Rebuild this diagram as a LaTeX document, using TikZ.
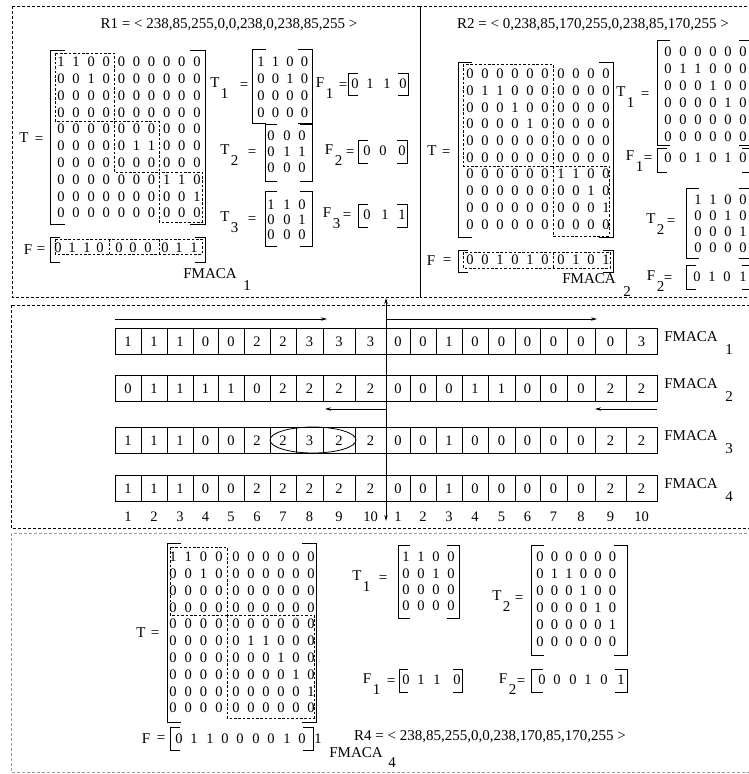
\documentclass[tikz,border=0pt]{standalone}
\usepackage{fontspec}
\setmainfont{Liberation Serif}
\usetikzlibrary{arrows.meta}

\tikzset{
  txt/.style={inner sep=0pt, font=\fontsize{15}{18}\selectfont},
  dig/.style={inner sep=0pt, font=\fontsize{14.5}{17}\selectfont},
  brk/.style={line width=0.9pt},
  blk/.style={dash pattern=on 2.6pt off 1.8pt, line width=0.7pt},
  panel/.style={dash pattern=on 3pt off 2pt, line width=0.8pt},
  graypanel/.style={panel, draw=black!40},
  cellln/.style={line width=0.8pt},
  arr/.style={-{Stealth[length=6pt,width=3.4pt]}, line width=0.7pt},
  darr/.style={{Stealth[length=6pt,width=3.4pt]}-{Stealth[length=6pt,width=3.4pt]}, line width=0.7pt},
}

% row of digits at listed x positions
\newcommand{\DigRowL}[4]{%
  \foreach \v [count=\c] in #4 {%
    \pgfmathsetmacro\cx{{#2}[\c-1]}%
    \node[dig] (#1-\c) at (\cx,#3) {\v};}}
% matrix: name, xlist, y0, dy, rows
\newcommand{\DigMat}[5]{%
  \foreach \rw [count=\r] in {#5} {%
    \pgfmathsetmacro\ry{#3+(\r-1)*(#4)}%
    \DigRowL{#1-\r}{#2}{\ry}{\rw}}}
% bracket pair: xl, xr, ytop, ybot, tick
\newcommand{\Brk}[5]{%
  \draw[brk] ({#1+#5},#3) -- (#1,#3) -- (#1,#4) -- ({#1+#5},#4);
  \draw[brk] ({#2-#5},#3) -- (#2,#3) -- (#2,#4) -- ({#2-#5},#4);}
% label with lowered index and equals sign: name, letter, x, y, index, x of =
\newcommand{\Lbl}[6]{%
  \node[txt] (#1) at (#3,#4) {#2};
  \node[txt] (#1s) at ({#3+9.5},{#4+11}) {#5};
  \node[txt] (#1e) at (#6,{#4+3}) {=};}
% row of cells in the middle panel: name, ytop, values
\newcommand{\CellRow}[3]{%
  \draw[cellln] (115,#2) rectangle (657,{#2+26});
  \foreach \bx in {141,167,193,218,244,270,296,323,355,386,410,436,462,488,515,540,567,595,626}
    {\draw[cellln] (\bx,#2) -- (\bx,{#2+26});}
  \foreach \v [count=\c] in {#3} {%
    \pgfmathsetmacro\cx{{128,154,180,205.5,231,257,283,309.5,339,370.5,398,423,449,475,501.5,527.5,553.5,581,610.5,641.5}[\c-1]}%
    \node[dig] (#1-\c) at (\cx,{#2+13.5}) {\v};}}

\begin{document}
\begin{tikzpicture}[x=1pt,y=-1pt]
\useasboundingbox (0,0) rectangle (749,774);

% ================= TOP LEFT: FMACA 1 =================
\draw[panel] (12,6) rectangle (420,297);
\node[txt] (r1) at (229,25) {R1 = < 238,85,255,0,0,238,0,238,85,255 >};

\node[txt] (tlT) at (24,138) {T};
\node[txt] (tlTe) at (39,140) {=};
\DigMat{tl}{61,76.1,91.2,106.3,121.4,136.5,151.6,166.7,181.8,196.9}{62}{16.8}{%
{1,1,0,0,0,0,0,0,0,0},{0,0,1,0,0,0,0,0,0,0},{0,0,0,0,0,0,0,0,0,0},{0,0,0,0,0,0,0,0,0,0},%
{0,0,0,0,0,0,0,0,0,0},{0,0,0,0,0,1,1,0,0,0},{0,0,0,0,0,0,0,0,0,0},%
{0,0,0,0,0,0,0,1,1,0},{0,0,0,0,0,0,0,0,0,1},{0,0,0,0,0,0,0,0,0,0}}
\Brk{50}{205}{50}{224}{15}
\draw[blk] (55,53) rectangle (114,121);
\draw[blk] (114,121) rectangle (159,172);
\draw[blk] (159,172) rectangle (202,222);

\node[txt] (tlF) at (28,250) {F};
\node[txt] (tlFe) at (41,250) {=};
\DigRowL{tlf}{58,72,87,100,119,133,148,165,179,194}{248}{{0,1,1,0,0,0,0,0,1,1}}
\Brk{50}{205}{237}{262}{10}
\draw[blk] (55,239) rectangle (202,254);
\draw[blk] (109,239) -- (109,254);
\draw[blk] (159,239) -- (159,254);

\Lbl{tlT1}{T}{215}{83}{1}{244}
\DigMat{tlone}{261,275.5,290,304.5}{62}{16.8}{{1,1,0,0},{0,0,1,0},{0,0,0,0},{0,0,0,0}}
\Brk{252}{312}{49}{123}{14}
\Lbl{tlF1}{F}{320}{83}{1}{343}
\DigRowL{tlfone}{355,370,387,403}{84}{{0,1,1,0}}
\Brk{348}{408}{73}{95}{10}

\Lbl{tlT2}{T}{225}{150}{2}{252}
\DigMat{tltwo}{271,287,302}{136}{16}{{0,0,0},{0,1,1},{0,0,0}}
\Brk{265}{312}{124}{181}{12}
\Lbl{tlF2}{F}{329}{150}{2}{350}
\DigRowL{tlftwo}{367,383,402}{151}{{0,0,0}}
\Brk{358}{407}{140}{163}{10}

\Lbl{tlT3}{T}{225}{217}{3}{252}
\DigMat{tlthree}{271,287,302}{205}{15}{{1,1,0},{0,0,1},{0,0,0}}
\Brk{265}{312}{191}{246}{12}
\Lbl{tlF3}{F}{327}{213}{3}{347}
\DigRowL{tlfthree}{367,385,402}{215}{{0,1,1}}
\Brk{358}{407}{204}{227}{10}

\node[txt] (fm1) at (210,274) {FMACA};
\node[txt] (fm1s) at (247,286) {1};

% ================= TOP RIGHT: FMACA 2 =================
\draw[panel] (420,6) rectangle (770,297);
\node[txt] (r2) at (593,25) {R2 = < 0,238,85,170,255,0,238,85,170,255 >};

\node[txt] (trT) at (432,151) {T};
\node[txt] (trTe) at (446,153) {=};
\DigMat{tr}{470,485,500,515,530,545,561,576,591,606}{74}{16.7}{%
{0,0,0,0,0,0,0,0,0,0},{0,1,1,0,0,0,0,0,0,0},{0,0,0,1,0,0,0,0,0,0},{0,0,0,0,1,0,0,0,0,0},%
{0,0,0,0,0,0,0,0,0,0},{0,0,0,0,0,0,0,0,0,0},{0,0,0,0,0,0,1,1,0,0},%
{0,0,0,0,0,0,0,0,1,0},{0,0,0,0,0,0,0,0,0,1},{0,0,0,0,0,0,0,0,0,0}}
\Brk{458}{613}{62}{237}{14}
\draw[blk] (463,64) rectangle (553,166);
\draw[blk] (553,166) rectangle (609,236);

\node[txt] (trF) at (431,261) {F};
\node[txt] (trFe) at (447,261) {=};
\DigRowL{trf}{470,485,500,515,530,545,561,576,591,606}{260}{{0,0,1,0,1,0,0,1,0,1}}
\Brk{458}{613}{250}{272}{10}
\draw[blk] (463,252) rectangle (610,268);
\draw[blk] (553,252) -- (553,268);

\node[txt] (fm2) at (589,279) {FMACA};
\node[txt] (fm2s) at (627,292) {2};

\Lbl{trT1}{T}{621}{92}{1}{645}
\DigMat{trone}{668,683,698,713,728,743}{52}{17}{%
{0,0,0,0,0,0},{0,1,1,0,0,0},{0,0,0,1,0,0},{0,0,0,0,1,0},{0,0,0,0,0,0},{0,0,0,0,0,0}}
\Brk{657}{752}{40}{145}{13}
\Lbl{trF1}{F}{630}{156}{1}{648}
\DigRowL{trfone}{668,683,698,713,728,743}{158}{{0,0,1,0,1,0}}
\Brk{657}{752}{148}{172}{10}

\Lbl{trT2}{T}{651}{219}{2}{671}
\DigMat{trtwo}{698,713,728,743}{200}{16}{{1,1,0,0},{0,0,1,0},{0,0,0,1},{0,0,0,0}}
\Brk{686}{752}{188}{258}{13}
\Lbl{trF2}{F}{651}{276}{2}{668}
\DigRowL{trftwo}{697,712,727,743}{277}{{0,1,0,1}}
\Brk{686}{752}{265}{289}{10}

% ================= MIDDLE =================
\draw[panel] (11,305) rectangle (770,528);
\CellRow{ra}{328}{1,1,1,0,0,2,2,3,3,3,0,0,1,0,0,0,0,0,0,3}
\CellRow{rb}{375}{0,1,1,1,1,0,2,2,2,2,0,0,0,1,1,0,0,0,2,2}
\CellRow{rc}{427}{1,1,1,0,0,2,2,3,2,2,0,0,1,0,0,0,0,0,2,2}
\CellRow{rd}{475}{1,1,1,0,0,2,2,2,2,2,0,0,1,0,0,0,0,0,2,2}
\foreach \yc/\k in {341/1,388/2,440/3,488/4} {
  \node[txt] (fmr\k) at (691,{\yc-4}) {FMACA};
  \node[txt] (fmr\k s) at (729,{\yc+9}) {\k};}
\foreach \v [count=\c] in {1,2,3,4,5,6,7,8,9,10,1,2,3,4,5,6,7,8,9,10} {
  \pgfmathsetmacro\cx{{128,154,180,205.5,231,257,283,309.5,339,370.5,398,423,449,475,501.5,527.5,553.5,581,610.5,641.5}[\c-1]}
  \node[dig] (num-\c) at (\cx,517) {\v};}
\draw[cellln] (313,440) ellipse [x radius=43pt, y radius=13pt];

\coordinate (aa) at (115,319); \coordinate (ab) at (327,319);
\coordinate (ac) at (386,319); \coordinate (ad) at (597,319);
\coordinate (ae) at (386,409); \coordinate (af) at (325,409);
\coordinate (ag) at (657,409); \coordinate (ah) at (595,409);
\coordinate (vt) at (386,298); \coordinate (vb) at (386,521);
\draw[arr] (aa) -- (ab);
\draw[arr] (ac) -- (ad);
\draw[arr] (ae) -- (af);
\draw[arr] (ag) -- (ah);
\draw[darr] (vb) -- (vt);

% ================= BOTTOM: FMACA 4 =================
\draw[graypanel] (11,533) rectangle (770,772);
\node[txt] (btT) at (141,633) {T};
\node[txt] (btTe) at (155,634) {=};
\DigMat{bt}{173,188.3,203.6,218.9,236,251,266,281,296,311}{557}{16.8}{%
{1,1,0,0,0,0,0,0,0,0},{0,0,1,0,0,0,0,0,0,0},{0,0,0,0,0,0,0,0,0,0},{0,0,0,0,0,0,0,0,0,0},%
{0,0,0,0,0,0,0,0,0,0},{0,0,0,0,0,1,1,0,0,0},{0,0,0,0,0,0,0,1,0,0},%
{0,0,0,0,0,0,0,0,1,0},{0,0,0,0,0,0,0,0,0,1},{0,0,0,0,0,0,0,0,0,0}}
\Brk{167}{316}{543}{722}{14}
\draw[blk] (170,547) rectangle (227,615);
\draw[blk] (227,615) rectangle (314,718);

\Lbl{btT1}{T}{357}{576}{1}{383}
\DigMat{btone}{406,421,436,451}{557}{16.3}{{1,1,0,0},{0,0,1,0},{0,0,0,0},{0,0,0,0}}
\Brk{398}{459}{545}{618}{12}

\Lbl{btT2}{T}{497}{596}{2}{519}
\DigMat{bttwo}{540,554.5,569,583.5,598,612.5}{557}{17}{%
{0,0,0,0,0,0},{0,1,1,0,0,0},{0,0,0,1,0,0},{0,0,0,0,1,0},{0,0,0,0,0,1},{0,0,0,0,0,0}}
\Brk{531}{627}{545}{655}{13}

\Lbl{btF1}{F}{367}{679}{1}{391}
\DigRowL{btfone}{406,421,437,457}{680}{{0,1,1,0}}
\Brk{399}{462}{669}{692}{9}
\Lbl{btF2}{F}{503}{679}{2}{521}
\DigRowL{btftwo}{542,557,573,588,604,621}{680}{{0,0,0,1,0,1}}
\Brk{531}{627}{669}{692}{12}

\node[txt] (btF) at (146,739) {F};
\node[txt] (btFe) at (161,739) {=};
\DigRowL{btf}{179,194,210,225,240,256,271,287,302,318}{739}{{0,1,1,0,0,0,0,1,0,1}}
\Brk{170}{313}{727}{750}{10}

\node[txt] (r4) at (490,737) {R4 = < 238,85,255,0,0,238,170,85,170,255 >};
\node[txt] (fm4) at (356,753) {FMACA};
\node[txt] (fm4s) at (392,763) {4};
\end{tikzpicture}
\end{document}
